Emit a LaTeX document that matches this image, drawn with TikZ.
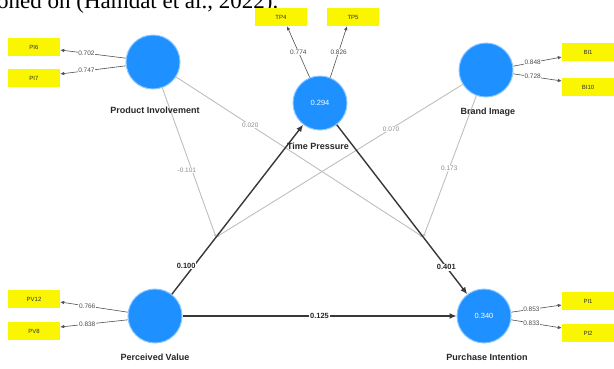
\documentclass[tikz,border=0pt]{standalone}
\usepackage{fontspec}
\setmainfont{Liberation Sans}
\newfontfamily\capserif{Liberation Serif}
\usetikzlibrary{arrows.meta,calc}
\definecolor{lvblue}{RGB}{30,144,255}
\definecolor{lvrim}{RGB}{140,200,255}
\definecolor{indyel}{RGB}{250,245,0}
\definecolor{pathgray}{RGB}{55,55,55}
\definecolor{loadgray}{RGB}{80,80,80}
\definecolor{modgray}{RGB}{190,190,190}
\tikzset{
  lv/.style={circle,fill=lvblue,draw=lvrim,line width=1pt,minimum size=54pt,inner sep=0pt,
    text=white,font=\fontsize{7.5}{8}\selectfont},
  lvname/.style={font=\fontsize{9}{10}\selectfont\bfseries,text=black!85,inner sep=1pt},
  ind/.style={rectangle,fill=indyel,minimum width=52pt,minimum height=18pt,inner sep=0pt,
    font=\fontsize{6}{7}\selectfont,text=black!80},
  load/.style={draw=loadgray,line width=0.6pt,-{Latex[length=4pt,width=3.5pt]}},
  ll/.style={fill=white,inner sep=0.6pt,font=\fontsize{6.5}{7}\selectfont,text=black!70},
  strp/.style={draw=pathgray,line width=1.4pt,-{Latex[length=7pt,width=6pt]}},
  pl/.style={fill=white,inner sep=0.8pt,font=\fontsize{7.5}{8}\selectfont\bfseries,text=black!85},
  modp/.style={draw=modgray,line width=0.9pt,-{Latex[length=3pt,width=3pt]}},
  ml/.style={fill=white,inner sep=0.6pt,font=\fontsize{6.5}{7}\selectfont,text=black!45},
}
\begin{document}
\begin{tikzpicture}[x=1pt,y=-1pt]
\useasboundingbox (0,0) rectangle (614,368);
\begin{scope}
\clip (0,0) rectangle (614,368);
\node[anchor=base west,inner sep=0pt,font=\capserif\fontsize{23}{24}\selectfont] (cap) at (-3,8) {oned on (Hamdat et al., 2022).};
\end{scope}
% latent variables
\node[lv] (pi) at (153,62) {};
\node[lv] (tp) at (320,103) {0.294};
\node[lv] (bi) at (486,70) {};
\node[lv] (pv) at (155,316) {};
\node[lv] (pu) at (484,316) {0.340};
% indicators
\node[ind] (pi6) at (34,47) {PI6};
\node[ind] (pi7) at (34,78) {PI7};
\node[ind] (tp4) at (281,17) {TP4};
\node[ind] (tp5) at (353,17) {TP5};
\node[ind] (bi1) at (588,52) {BI1};
\node[ind] (bi10) at (588,87) {BI10};
\node[ind] (pv12) at (34,299) {PV12};
\node[ind] (pv8) at (34,331) {PV8};
\node[ind] (pu1) at (588,301) {PI1};
\node[ind] (pu2) at (588,333) {PI2};
% interaction points on structural paths
\coordinate (m1) at ($(pv)!0.37!(tp)$);
\coordinate (m2) at ($(tp)!0.63!(pu)$);
% moderating lines
\draw[modp] (pi) -- node[ml,pos=0.55,xshift=-5pt]{-0.101} (m1);
\draw[modp] (bi) -- node[ml,pos=0.29]{0.070} (m1);
\draw[modp] (pi) -- node[ml,pos=0.3]{0.020} (m2);
\draw[modp] (bi) -- node[ml,pos=0.51]{0.173} (m2);
% structural paths
\draw[strp] (pv) -- node[pl,pos=0.17,xshift=-8pt]{0.100} (tp);
\draw[strp] (tp) -- node[pl,pos=0.84]{0.401} (pu);
\draw[strp,line width=1.2pt] (pv) -- node[pl,pos=0.5]{0.125} (pu);
% loadings
\draw[load] (pi.172) -- node[ll,pos=0.6]{0.702} ($(pi6.east)+(0,3)$);
\draw[load] (pi.188) -- node[ll,pos=0.6]{0.747} ($(pi7.east)+(0,-4)$);
\draw[load] (tp.112) -- node[ll,pos=0.5]{0.774} ($(tp4.south)+(6,0)$);
\draw[load] (tp.68) -- node[ll,pos=0.5]{0.826} ($(tp5.south)+(-6,0)$);
\draw[load] (bi.8) -- node[ll,pos=0.4]{0.848} ($(bi1.west)+(0,5)$);
\draw[load] (bi.352) -- node[ll,pos=0.4]{0.728} ($(bi10.west)+(0,-6)$);
\draw[load] (pv.172) -- node[ll,pos=0.6]{0.766} ($(pv12.east)+(0,3)$);
\draw[load] (pv.188) -- node[ll,pos=0.6]{0.838} ($(pv8.east)+(0,-4)$);
\draw[load] (pu.8) -- node[ll,pos=0.4]{0.853} ($(pu1.west)+(0,4)$);
\draw[load] (pu.352) -- node[ll,pos=0.4]{0.833} ($(pu2.west)+(0,-5)$);
% names
\node[lvname] (piname) at (155,110) {Product Involvement};
\node[lvname] (tpname) at (318,146) {Time Pressure};
\node[lvname] (biname) at (488,112) {Brand Image};
\node[lvname] (pvname) at (155,357) {Perceived Value};
\node[lvname] (puname) at (487,357) {Purchase Intention};
\end{tikzpicture}
\end{document}
